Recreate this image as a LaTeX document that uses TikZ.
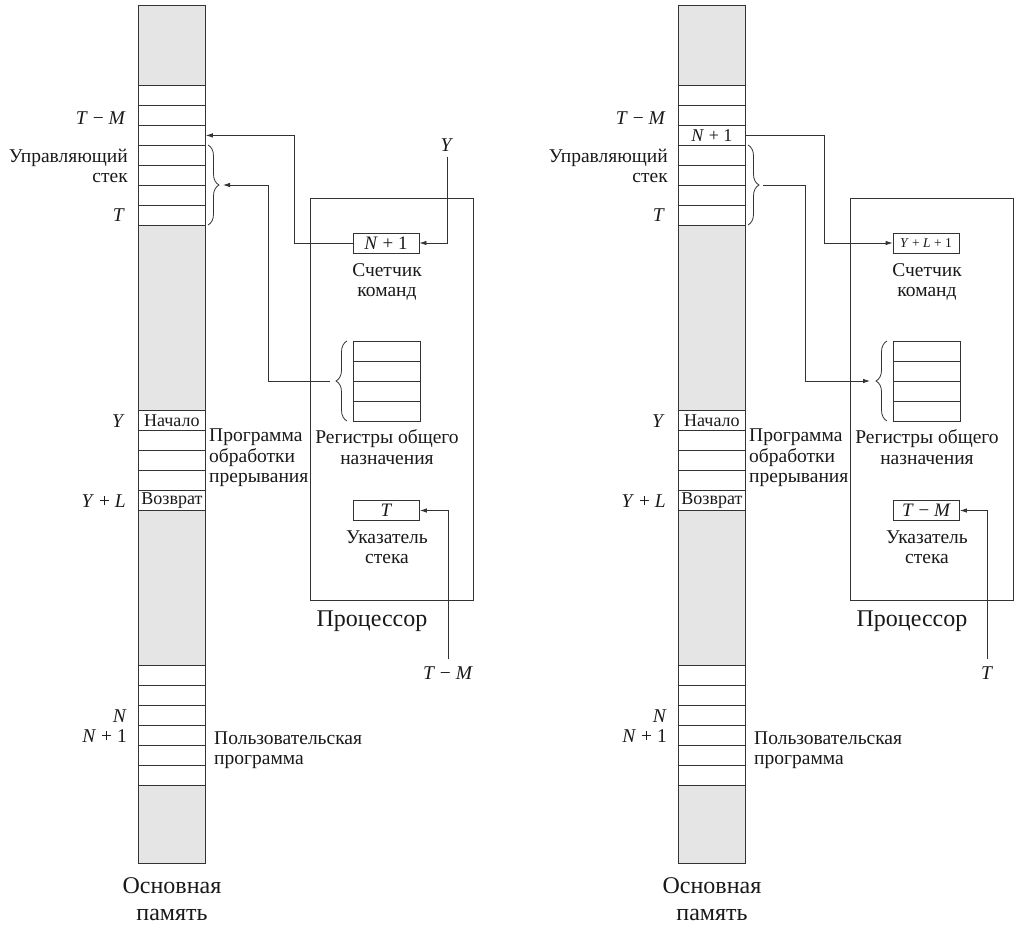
\documentclass[tikz,border=0pt]{standalone}
\usepackage{fontspec}
\setmainfont{Liberation Serif}
\usetikzlibrary{decorations.pathreplacing,arrows.meta,calc}
\newcommand\memcol[1]{%
  \fill[shadefill] (138,5) rectangle (205,85);
  \fill[shadefill] (138,225) rectangle (205,410);
  \fill[shadefill] (138,510) rectangle (205,665);
  \fill[shadefill] (138,785) rectangle (205,863);
  \node[cell] (m1) at (138,85) {};
  \node[cell] (m2) at (138,105) {};
  \node[cell] (m3) at (138,125) {#1};
  \node[cell] (m4) at (138,145) {};
  \node[cell] (m5) at (138,165) {};
  \node[cell] (m6) at (138,185) {};
  \node[cell] (m7) at (138,205) {};
  \node[cell] (y0) at (138,410) {Начало};
  \node[cell] (y1) at (138,430) {};
  \node[cell] (y2) at (138,450) {};
  \node[cell] (y3) at (138,470) {};
  \node[cell] (y4) at (138,490) {Возврат};
  \node[cell] (u1) at (138,665) {};
  \node[cell] (u2) at (138,685) {};
  \node[cell] (u3) at (138,705) {};
  \node[cell] (u4) at (138,725) {};
  \node[cell] (u5) at (138,745) {};
  \node[cell] (u6) at (138,765) {};
  \draw[line] (138,5) rectangle (205,863);
  \node[lbl, anchor=east] (ltm) at (126,118) {\textit{T} − \textit{M}};
  \node[lbl, anchor=east, align=right] (lstack) at (128,166) {Управляющий\\стек};
  \node[lbl, anchor=east] (lt) at (125,215) {\textit{T}};
  \node[lbl, anchor=east] (ly) at (125,421) {\textit{Y}};
  \node[lbl, anchor=east] (lyl) at (126,501) {\textit{Y} + \textit{L}};
  \node[lbl, anchor=east] (ln) at (127,716) {\textit{N}};
  \node[lbl, anchor=east] (ln1) at (127,736) {\textit{N} + 1};
  \node[lbl, anchor=west, align=left] (lisr) at (209,458) {Программа\\обработки\\прерывания};
  \node[lbl, anchor=west, align=left] (luser) at (214,750) {Пользовательская\\программа};
  \node[big, align=center] (lmem) at (172,899) {Основная\\память};
  \draw[brc] (208,145) -- (208,225);
  \coordinate (mb) at (223,185);
}
\newcommand\proc[2]{%
  \node[line, draw, anchor=north west, minimum width=163pt, minimum height=402pt, inner sep=0pt] (cpu) at (310,198) {};
  \node[reg] (pc) at (386,243) {#1};
  \node[lbl, align=center] (lpc) at (387,282) {Счетчик\\команд};
  \node[cell, minimum width=67pt] (g1) at (353,341) {};
  \node[cell, minimum width=67pt] (g2) at (353,361) {};
  \node[cell, minimum width=67pt] (g3) at (353,381) {};
  \node[cell, minimum width=67pt] (g4) at (353,401) {};
  \draw[brc] (347,421) -- (347,341);
  \coordinate (gb) at (330,381);
  \node[lbl, align=center] (lgpr) at (387,447) {Регистры общего\\назначения};
  \node[reg] (sp) at (386.5,510.5) {#2};
  \node[lbl, align=center] (lsp) at (387,547) {Указатель\\стека};
  \node[big] (lcpu) at (372,621) {Процессор};
}
\begin{document}
\begin{tikzpicture}[x=1pt,y=-1pt,
  line/.style={draw=black!80, line width=0.8pt},
  arr/.style={line, -{Latex[length=7pt,width=4.5pt]}},
  shadefill/.style={fill=black!10},
  cell/.style={line, anchor=north west, minimum width=67pt, minimum height=20pt, inner sep=0pt, text=black!90, font=\fontsize{18}{18}\selectfont},
  reg/.style={line, minimum width=66pt, minimum height=20pt, inner sep=0pt, text=black!90, font=\fontsize{19}{19}\selectfont},
  lbl/.style={inner sep=0pt, text=black!90, font=\fontsize{19.5}{20.5}\selectfont},
  big/.style={inner sep=0pt, text=black!90, font=\fontsize{24}{27}\selectfont},
  brc/.style={line, decorate, decoration={brace, amplitude=11pt}},
]
\useasboundingbox (0,0) rectangle (1018,935);
% ---- left panel
\memcol{}
\proc{\textit{N} + 1}{\textit{T}}
\node[lbl] (ytop) at (447,145) {\textit{Y}};
\draw[arr] ([yshift=-5pt]ytop.south) |- (pc.east);
\draw[arr] (pc.west) -- ++(-58,0) |- (m3.east);
\draw[arr] (gb) -- ++(-62,0) |- (mb);
\node[lbl] (tmbot) at (448,673) {\textit{T} − \textit{M}};
\draw[arr] ([yshift=7pt]tmbot.north) |- (sp.east);
% ---- right panel
\begin{scope}[xshift=540pt, name prefix=r]
\memcol{\textit{N} + 1}
\proc{\fontsize{13.5}{13.5}\selectfont\textit{Y} + \textit{L} + 1}{\textit{T} − \textit{M}}
\draw[arr] (m3.east) -- ++(79,0) |- (pc.west);
\draw[arr] (mb) -- ++(42,0) |- (gb);
\node[lbl] (tbot) at (447,673) {\textit{T}};
\draw[arr] ([yshift=7pt]tbot.north) |- (sp.east);
\end{scope}
\end{tikzpicture}
\end{document}
